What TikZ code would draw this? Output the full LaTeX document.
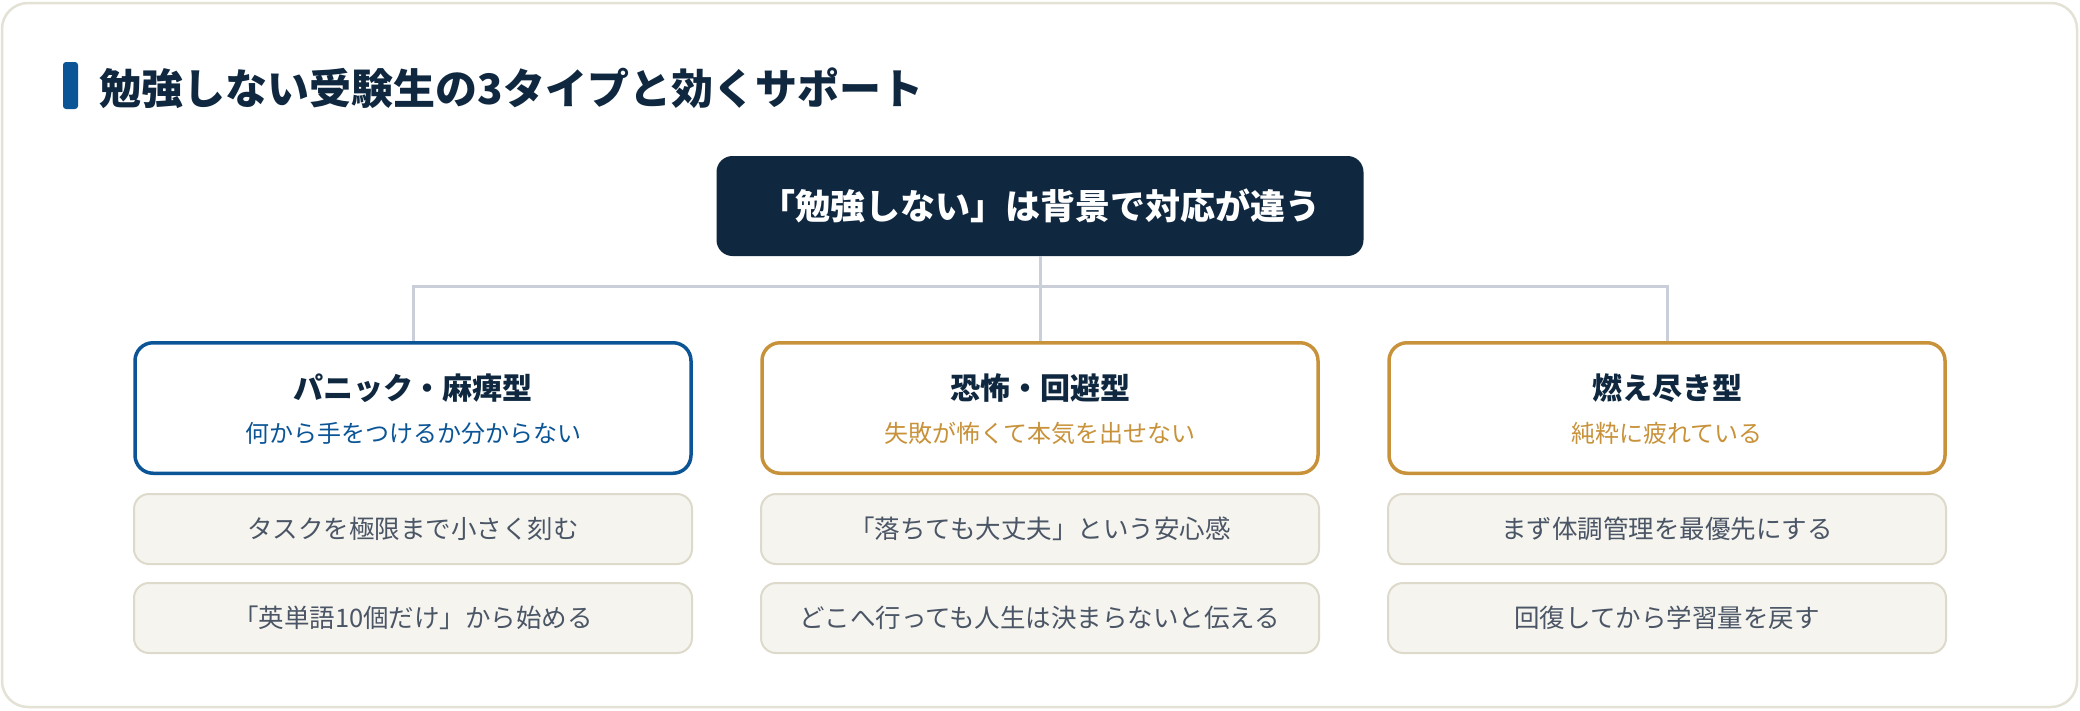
\documentclass[tikz,border=0pt]{standalone}
\usepackage{fontspec}
\setmainfont{Noto Sans CJK JP}
\definecolor{navy}{HTML}{0F2840}
\definecolor{accblue}{HTML}{0B5597}
\definecolor{accgold}{HTML}{C8923A}
\definecolor{connline}{HTML}{C9CED8}
\definecolor{actfill}{HTML}{F6F4EF}
\definecolor{actline}{HTML}{DEDACB}
\definecolor{acttext}{HTML}{4A5565}
\definecolor{cardline}{HTML}{E4E1D5}

\begin{document}
\begin{tikzpicture}[x=1pt,y=-1pt,
  typebox/.style={draw=#1,line width=3.5pt,rounded corners=18pt,fill=white,minimum width=556pt,minimum height=130.5pt},
  typetitle/.style={text=navy,font=\fontsize{30}{36}\selectfont\bfseries},
  typesub/.style={text=#1,font=\fontsize{24}{30}\selectfont},
  actbox/.style={draw=actline,line width=2pt,rounded corners=15pt,fill=actfill,minimum width=558pt,minimum height=70pt,text=acttext,font=\fontsize{25.5}{30}\selectfont},
  conn/.style={draw=connline,line width=3pt}]
\useasboundingbox[fill=white] (0,0) rectangle (2080,710);
\draw[cardline,line width=2.5pt,rounded corners=26pt,fill=white] (2,3) rectangle (2077,707);
\fill[accblue,rounded corners=3pt] (63,62) rectangle (78,109);
\node[anchor=west,text=navy,font=\fontsize{42}{50}\selectfont\bfseries] (H) at (96,88) {勉強しない受験生の3タイプと効くサポート};
\node[fill=navy,rounded corners=16pt,minimum width=647pt,minimum height=100pt,text=white,font=\fontsize{35}{42}\selectfont\bfseries] (T) at (1040,206) {「勉強しない」は背景で対応が違う};
\node[typebox=accblue] (P) at (413,408) {};
\node[typebox=accgold] (K) at (1040,408) {};
\node[typebox=accgold] (M) at (1667,408) {};
\node[typetitle] (Pt) at (413,388) {パニック・麻痺型};
\node[typetitle] (Kt) at (1040,388) {恐怖・回避型};
\node[typetitle] (Mt) at (1667,388) {燃え尽き型};
\node[typesub=accblue] (Ps) at (413,433) {何から手をつけるか分からない};
\node[typesub=accgold] (Ks) at (1040,433) {失敗が怖くて本気を出せない};
\node[typesub=accgold] (Ms) at (1667,433) {純粋に疲れている};
\node[actbox] (P1) at (413,529) {タスクを極限まで小さく刻む};
\node[actbox] (P2) at (413,618) {「英単語10個だけ」から始める};
\node[actbox] (K1) at (1040,529) {「落ちても大丈夫」という安心感};
\node[actbox] (K2) at (1040,618) {どこへ行っても人生は決まらないと伝える};
\node[actbox] (M1) at (1667,529) {まず体調管理を最優先にする};
\node[actbox] (M2) at (1667,618) {回復してから学習量を戻す};
\coordinate (bus) at (1040,286);
\draw[conn] (T.south) -- (K.north);
\draw[conn] (P.north) |- (bus) -| (M.north);
\end{tikzpicture}
\end{document}
